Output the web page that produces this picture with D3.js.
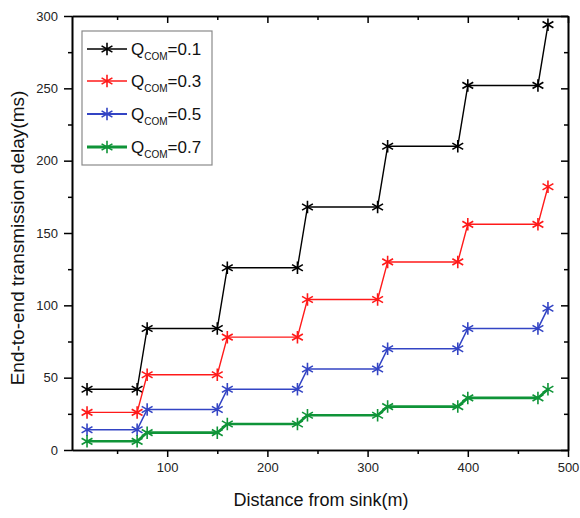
<!DOCTYPE html>
<html>
<head>
<meta charset="utf-8">
<script src="https://cdn.jsdelivr.net/npm/d3@7/dist/d3.min.js"></script>
<style>
  html, body { margin: 0; padding: 0; background: #fff; }
  svg { display: block; font-family: "Liberation Sans", Arial, sans-serif; }
</style>
</head>
<body>
<svg id="chart" width="580" height="518"></svg>
<script>
// ---- data ----
const distances = [20, 70, 80, 150, 160, 230, 240, 310, 320, 390, 400, 470, 480];
const delayQ01 = [42, 42, 84, 84, 126, 126, 168, 168, 210, 210, 252, 252, 294];
const delayQ03 = [26, 26, 52, 52, 78, 78, 104, 104, 130, 130, 156, 156, 182];
const delayQ05 = [14, 14, 28, 28, 42, 42, 56, 56, 70, 70, 84, 84, 98];
const delayQ07 = [6, 6, 12, 12, 18, 18, 24, 24, 30, 30, 36, 36, 42];
const seriesValues = ["=0.1", "=0.3", "=0.5", "=0.7"];
const xTicks = [100, 200, 300, 400, 500];
const xMinorTicks = [50, 150, 250, 350, 450];
const yTicks = [0, 50, 100, 150, 200, 250, 300];
const yMinorTicks = [25, 75, 125, 175, 225, 275];
const xTitle = "Distance from sink(m)";
const yTitle = "End-to-end transmission delay(ms)";

const series = [
  { name: seriesValues[0], values: delayQ01, color: "#000000", width: 1.4 },
  { name: seriesValues[1], values: delayQ03, color: "#ff1a1a", width: 1.4 },
  { name: seriesValues[2], values: delayQ05, color: "#3344c4", width: 1.6 },
  { name: seriesValues[3], values: delayQ07, color: "#0f9438", width: 2.6 }
];

// ---- layout ----
const pL = 72, pR = 568, pT = 16, pB = 450;
const svg = d3.select("#chart");
const x = d3.scaleLinear().domain([5, 500]).range([pL, pR]);
const y = d3.scaleLinear().domain([0, 300]).range([pB, pT]);

const font = "Liberation Sans, Arial, sans-serif";

function styleAxis(g) {
  g.select(".domain").attr("stroke", "#000").attr("stroke-width", 1.6);
  g.selectAll(".tick line").attr("stroke", "#000").attr("stroke-width", 1.5);
  g.selectAll(".tick text").attr("fill", "#222").style("font-size", "13px").style("font-family", font);
}

// bottom
svg.append("g").attr("transform", `translate(0,${pB})`)
  .call(d3.axisBottom(x).tickValues(xMinorTicks).tickSizeInner(4).tickSizeOuter(0).tickFormat(""))
  .call(styleAxis);
svg.append("g").attr("transform", `translate(0,${pB})`)
  .call(d3.axisBottom(x).tickValues(xTicks).tickSizeInner(7).tickSizeOuter(0).tickPadding(6))
  .call(styleAxis);
// top
svg.append("g").attr("transform", `translate(0,${pT})`)
  .call(d3.axisTop(x).tickValues(xMinorTicks).tickSizeInner(-4).tickSizeOuter(0).tickFormat(""))
  .call(styleAxis);
svg.append("g").attr("transform", `translate(0,${pT})`)
  .call(d3.axisTop(x).tickValues(xTicks).tickSizeInner(-7).tickSizeOuter(0).tickFormat(""))
  .call(styleAxis);
// left
svg.append("g").attr("transform", `translate(${pL},0)`)
  .call(d3.axisLeft(y).tickValues(yMinorTicks).tickSizeInner(4).tickSizeOuter(0).tickFormat(""))
  .call(styleAxis);
svg.append("g").attr("transform", `translate(${pL},0)`)
  .call(d3.axisLeft(y).tickValues(yTicks).tickSizeInner(8).tickSizeOuter(0).tickPadding(6))
  .call(styleAxis);
// right
svg.append("g").attr("transform", `translate(${pR},0)`)
  .call(d3.axisRight(y).tickValues(yMinorTicks).tickSizeInner(-4).tickSizeOuter(0).tickFormat(""))
  .call(styleAxis);
svg.append("g").attr("transform", `translate(${pR},0)`)
  .call(d3.axisRight(y).tickValues(yTicks).tickSizeInner(-7).tickSizeOuter(0).tickFormat(""))
  .call(styleAxis);

// ---- series ----
const line = d3.line().x((d, i) => x(distances[i])).y(d => y(d));
const star = d3.symbol().type(d3.symbolAsterisk).size(110);

series.forEach(s => {
  const g = svg.append("g");
  g.append("path").attr("d", line(s.values)).attr("fill", "none")
    .attr("stroke", s.color).attr("stroke-width", s.width);
  g.selectAll("path.m").data(s.values).join("path").attr("class", "m")
    .attr("d", star)
    .attr("transform", (d, i) => `translate(${x(distances[i])},${y(d)})`)
    .attr("fill", "none").attr("stroke", s.color).attr("stroke-width", 1.6);
});

// ---- legend ----
const legend = svg.append("g");
legend.append("rect").attr("x", 82).attr("y", 31).attr("width", 130).attr("height", 134)
  .attr("fill", "#fff").attr("stroke", "#8a8a8a").attr("stroke-width", 1.2);
const legY = [49, 81, 114, 147];
series.forEach((s, i) => {
  const ly = legY[i];
  legend.append("line").attr("x1", 87).attr("x2", 127).attr("y1", ly).attr("y2", ly)
    .attr("stroke", s.color).attr("stroke-width", s.width + 0.2);
  legend.append("path").attr("d", star).attr("transform", `translate(107,${ly})`)
    .attr("fill", "none").attr("stroke", s.color).attr("stroke-width", 1.6);
  const t = legend.append("text").attr("x", 131).attr("y", ly + 6)
    .attr("fill", "#111").style("font-family", font).style("font-size", "17px");
  t.append("tspan").text("Q");
  t.append("tspan").attr("dy", 5).style("font-size", "10px").text("COM");
  t.append("tspan").attr("dy", -5).text(s.name);
});

// ---- titles ----
svg.append("text").attr("x", 321).attr("y", 506).attr("text-anchor", "middle")
  .attr("fill", "#111").style("font-family", font).style("font-size", "18px").text(xTitle);
svg.append("text").attr("transform", `translate(24,238) rotate(-90)`)
  .attr("text-anchor", "middle").attr("fill", "#111")
  .style("font-family", font).style("font-size", "19px").text(yTitle);
</script>
</body>
</html>
